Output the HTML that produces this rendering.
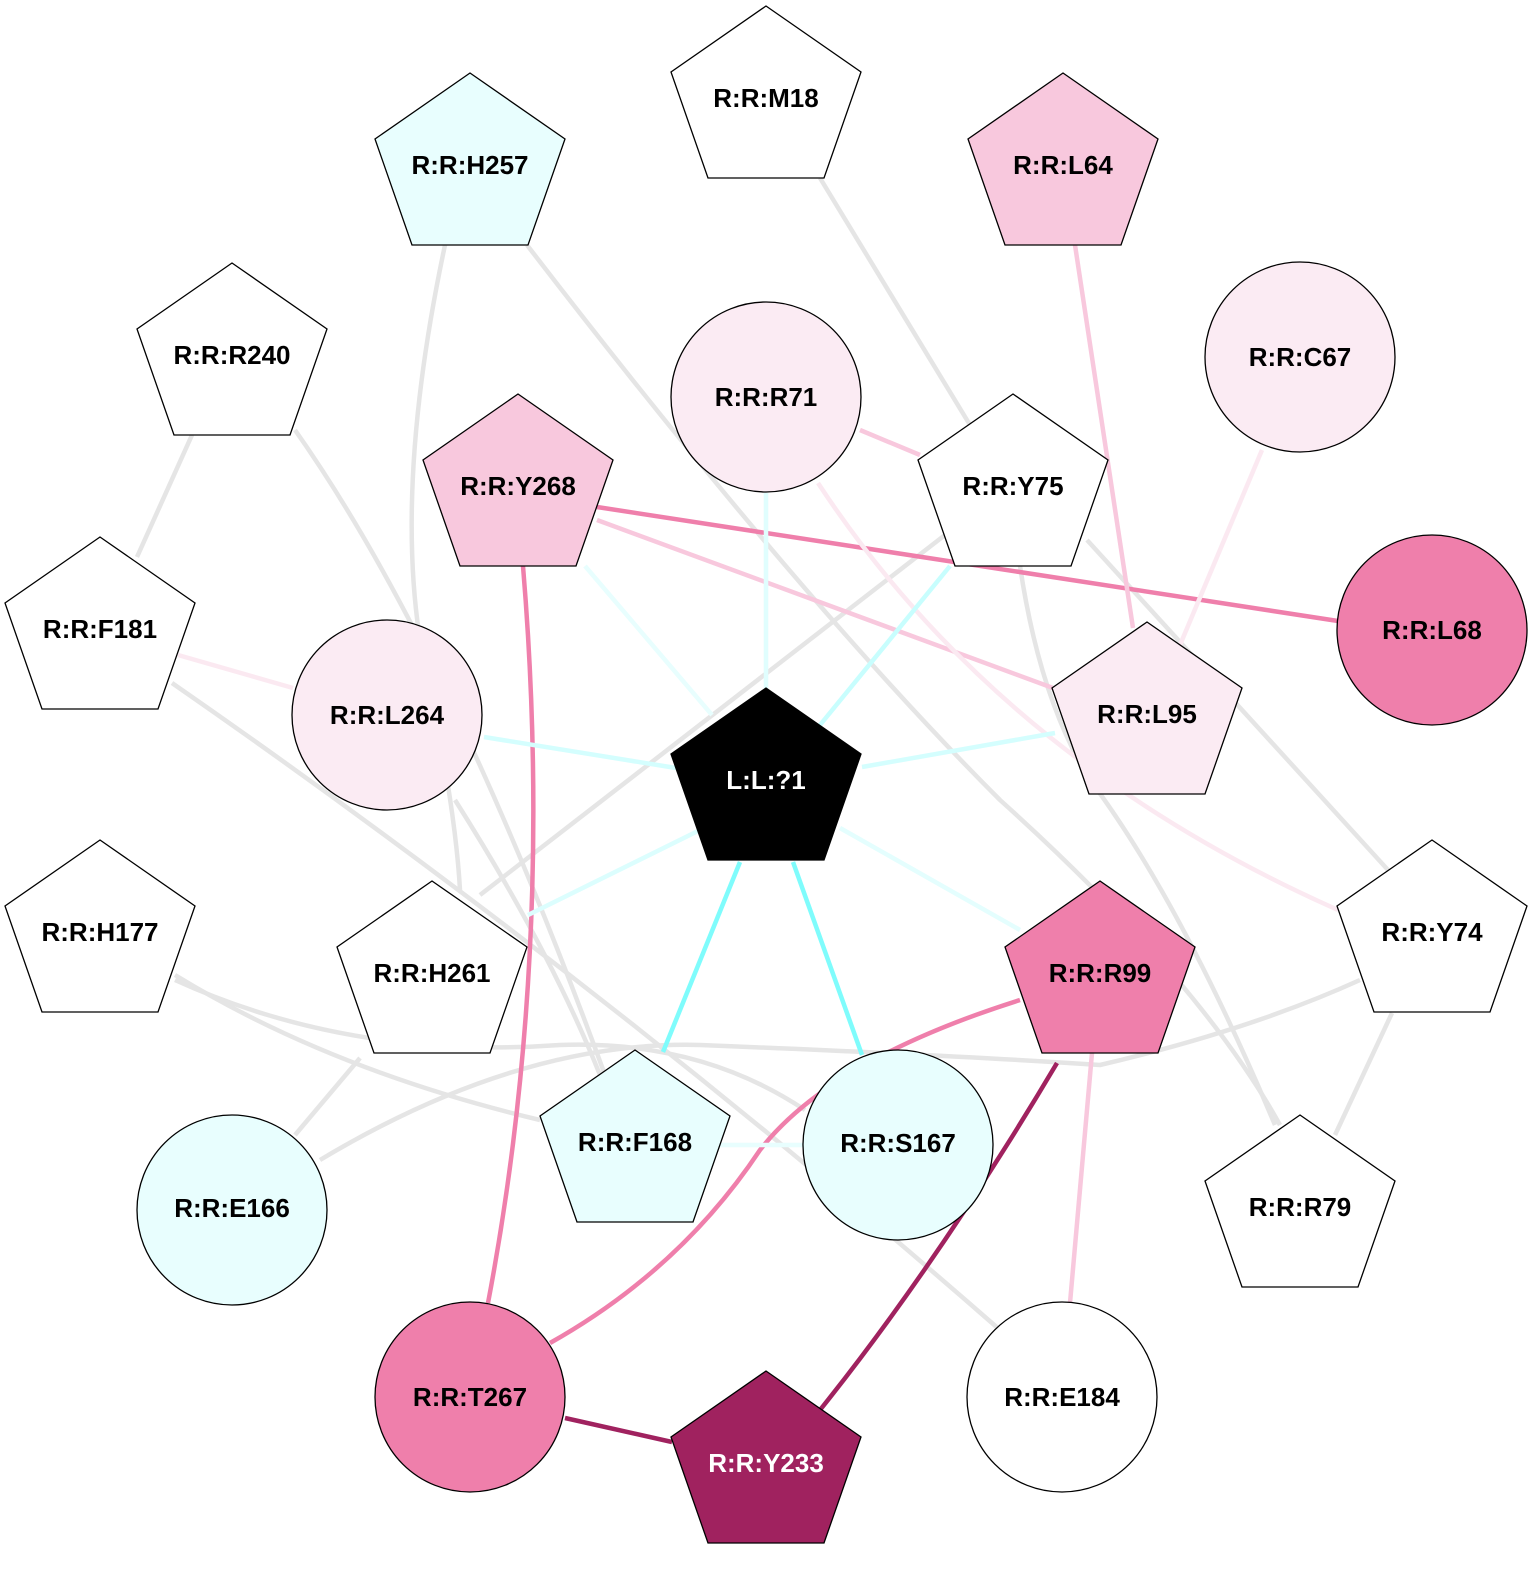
<!DOCTYPE html>
<html><head><meta charset="utf-8"><style>html,body{margin:0;padding:0;background:#fff}</style></head><body>
<svg width="1540" height="1574" viewBox="0 0 1540 1574" xmlns="http://www.w3.org/2000/svg" font-family="Liberation Sans, Arial, sans-serif" font-weight="bold" font-size="26">
<g fill="none" stroke-width="4.5">
<g stroke="#e5e5e5">
<line x1="820" y1="178" x2="970" y2="425"/>
<path d="M445,245 Q395,480 420,640 Q455,800 460,890"/>
<path d="M527,245 Q800,600 1000,800 Q1200,980 1280,1125"/>
<line x1="192" y1="435" x2="137" y2="557"/>
<path d="M295,430 Q450,650 605,1075"/>
<line x1="945" y1="535" x2="480" y2="895"/>
<line x1="1087" y1="540" x2="1388" y2="870"/>
<path d="M1020,566 Q1040,700 1090,780 Q1180,900 1275,1125"/>
<path d="M172,683 Q600,980 1000,1330"/>
<path d="M175,975 Q330,1070 540,1120"/>
<path d="M175,980 Q350,1060 560,1045 Q700,1040 805,1110"/>
<path d="M455,800 Q550,950 600,1075"/>
<line x1="295" y1="1135" x2="360" y2="1058"/>
<path d="M320,1160 Q520,1040 700,1045 Q950,1055 1100,1065 Q1250,1030 1360,980"/>
<line x1="1392" y1="1013" x2="1335" y2="1135"/>
</g>
<line x1="597" y1="507" x2="1338" y2="621" stroke="#ef7fab"/>
<line x1="597" y1="520" x2="1053" y2="688" stroke="#f8c8dd"/>
<path d="M523,566 Q555,950 488,1303" stroke="#ef7fab"/>
<line x1="1075" y1="245" x2="1133" y2="628" stroke="#f8c8dd"/>
<line x1="1262" y1="450" x2="1180" y2="645" stroke="#fbe9f1"/>
<line x1="860" y1="430" x2="920" y2="455" stroke="#f8c8dd"/>
<path d="M818,483 Q1000,760 1338,910" stroke="#fbe9f1"/>
<line x1="178" y1="655" x2="293" y2="688" stroke="#fbe9f1"/>
<path d="M1020,1000 Q830,1060 760,1150 Q680,1270 550,1343" stroke="#ef7fab"/>
<path d="M1057,1063 Q940,1260 820,1410" stroke="#a0225f"/>
<line x1="1092" y1="1053" x2="1070" y2="1303" stroke="#f8c8dd"/>
<line x1="565" y1="1418" x2="672" y2="1442" stroke="#a0225f"/>
<line x1="766" y1="493" x2="766" y2="690" stroke="#e0fefe"/>
<line x1="585" y1="566" x2="712" y2="715" stroke="#e8fefe"/>
<line x1="950" y1="566" x2="820" y2="725" stroke="#c8fefe"/>
<line x1="484" y1="737" x2="676" y2="768" stroke="#d4fefe"/>
<line x1="862" y1="767" x2="1055" y2="733" stroke="#d4fefe"/>
<line x1="700" y1="830" x2="528" y2="915" stroke="#dcfefe"/>
<line x1="840" y1="828" x2="1020" y2="930" stroke="#e4fefe"/>
<line x1="740" y1="862" x2="663" y2="1052" stroke="#7ffcfc"/>
<line x1="793" y1="862" x2="862" y2="1055" stroke="#7ffcfc"/>
<line x1="720" y1="1145" x2="805" y2="1145" stroke="#e8fefe"/>
</g>
<g stroke="#000" stroke-width="1.3">
<polygon points="766,6 861,72 824,178 708,178 671,72" fill="#fff"/>
<polygon points="470,73 565,139 528,245 412,245 375,139" fill="#e8fefe"/>
<polygon points="1063,73 1158,139 1121,245 1005,245 968,139" fill="#f8c8dd"/>
<polygon points="232,263 327,329 290,435 174,435 137,329" fill="#fff"/>
<polygon points="518,394 613,460 576,566 460,566 423,460" fill="#f8c8dd"/>
<polygon points="1013,394 1108,460 1071,566 955,566 918,460" fill="#fff"/>
<polygon points="100,537 195,603 158,709 42,709 5,603" fill="#fff"/>
<polygon points="1147,622 1242,688 1205,794 1089,794 1052,688" fill="#fbebf3"/>
<polygon points="766,688 861,754 824,860 708,860 671,754" fill="#000"/>
<polygon points="100,840 195,906 158,1012 42,1012 5,906" fill="#fff"/>
<polygon points="432,881 527,947 490,1053 374,1053 337,947" fill="#fff"/>
<polygon points="1100,881 1195,947 1158,1053 1042,1053 1005,947" fill="#ef7fab"/>
<polygon points="1432,840 1527,906 1490,1012 1374,1012 1337,906" fill="#fff"/>
<polygon points="635,1050 730,1116 693,1222 577,1222 540,1116" fill="#e8fefe"/>
<polygon points="1300,1115 1395,1181 1358,1287 1242,1287 1205,1181" fill="#fff"/>
<polygon points="766,1371 861,1437 824,1543 708,1543 671,1437" fill="#a0225f"/>
<circle cx="766" cy="397" r="95" fill="#fbebf3"/>
<circle cx="1300" cy="357" r="95" fill="#fbebf3"/>
<circle cx="1432" cy="630" r="95" fill="#ef7fab"/>
<circle cx="387" cy="715" r="95" fill="#fbebf3"/>
<circle cx="898" cy="1145" r="95" fill="#e8fefe"/>
<circle cx="232" cy="1210" r="95" fill="#e8fefe"/>
<circle cx="470" cy="1397" r="95" fill="#ef7fab"/>
<circle cx="1062" cy="1397" r="95" fill="#fff"/>
</g>
<g text-anchor="middle" fill="#000" dominant-baseline="central">
<text x="766" y="98">R:R:M18</text>
<text x="470" y="165">R:R:H257</text>
<text x="1063" y="165">R:R:L64</text>
<text x="232" y="355">R:R:R240</text>
<text x="518" y="486">R:R:Y268</text>
<text x="1013" y="486">R:R:Y75</text>
<text x="100" y="629">R:R:F181</text>
<text x="1147" y="714">R:R:L95</text>
<text x="766" y="780" fill="#fff">L:L:?1</text>
<text x="100" y="932">R:R:H177</text>
<text x="432" y="973">R:R:H261</text>
<text x="1100" y="973">R:R:R99</text>
<text x="1432" y="932">R:R:Y74</text>
<text x="635" y="1142">R:R:F168</text>
<text x="1300" y="1207">R:R:R79</text>
<text x="766" y="1463" fill="#fff">R:R:Y233</text>
<text x="766" y="397">R:R:R71</text>
<text x="1300" y="357">R:R:C67</text>
<text x="1432" y="630">R:R:L68</text>
<text x="387" y="715">R:R:L264</text>
<text x="898" y="1143">R:R:S167</text>
<text x="232" y="1208">R:R:E166</text>
<text x="470" y="1397">R:R:T267</text>
<text x="1062" y="1397">R:R:E184</text>
</g>
</svg>
</body></html>
